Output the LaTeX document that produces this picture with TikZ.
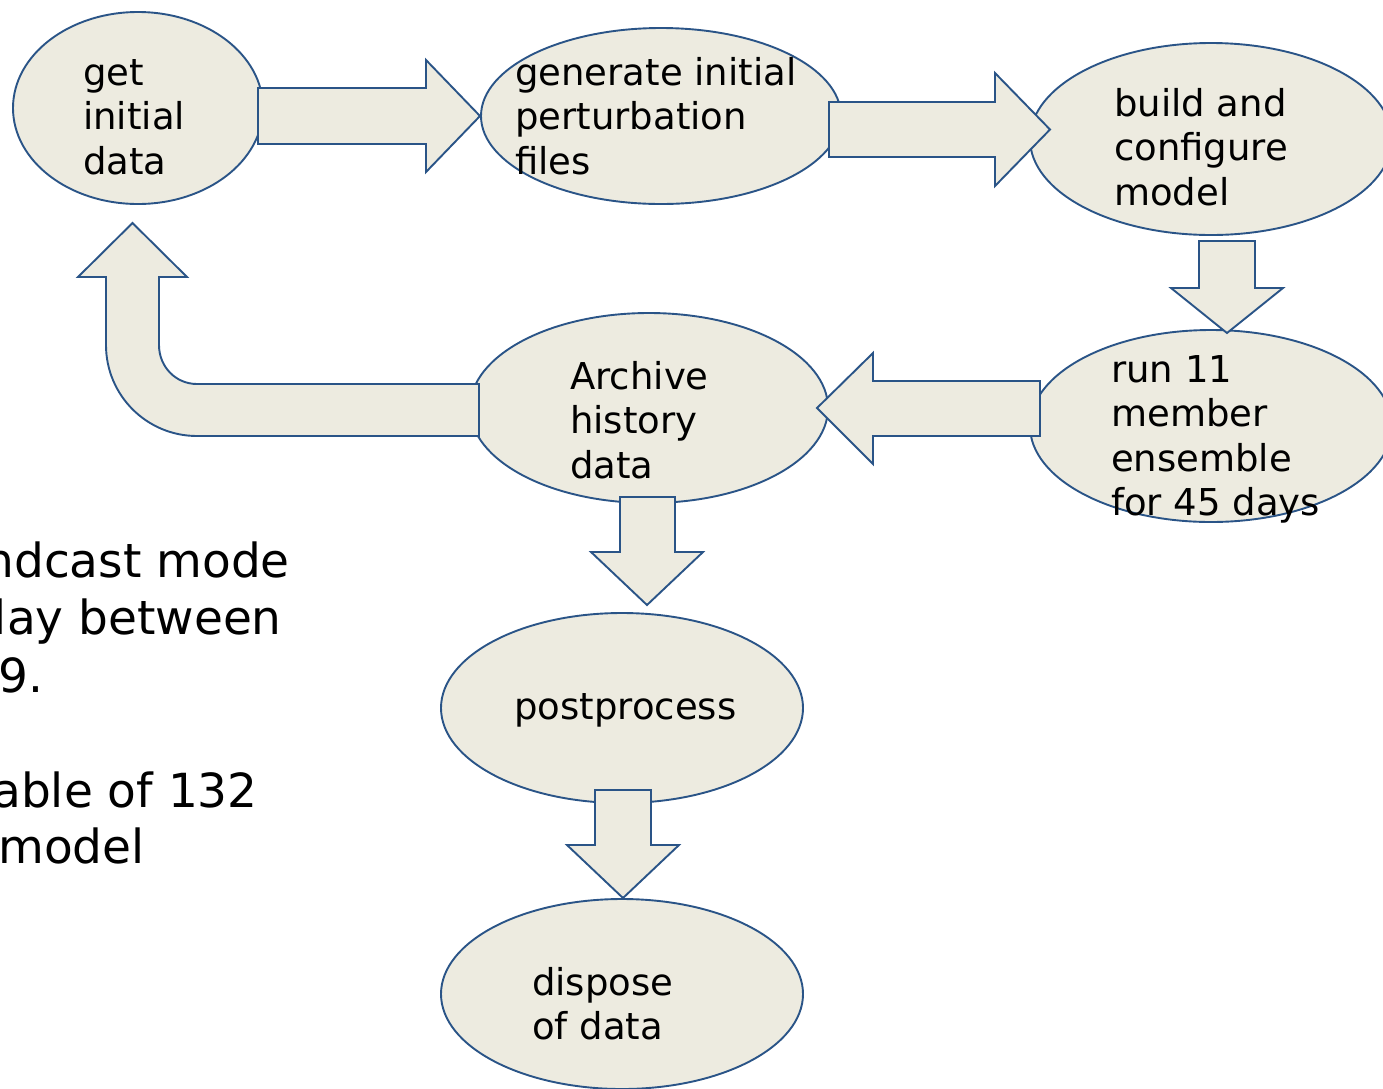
\documentclass[tikz,border=0pt]{standalone}
\usepackage{fontspec}
\setmainfont{DejaVu Sans}
\usetikzlibrary{shapes.geometric}
\definecolor{boxfill}{RGB}{237,235,224}
\definecolor{boxline}{RGB}{42,84,135}
\newcommand{\mylines}[1]{\begin{tabular}[t]{@{}l@{}}#1\end{tabular}}
\tikzset{
  bubble/.style={ellipse, draw=boxline, fill=boxfill, line width=1.9pt, inner sep=0pt},
  blockarrow/.style={draw=boxline, fill=boxfill, line width=1.9pt, line join=miter},
  lbl/.style={anchor=base west, inner sep=0pt, font=\fontsize{37}{44.5}\selectfont},
  side/.style={anchor=base east, inner sep=0pt, font=\fontsize{47}{57}\selectfont}
}
\begin{document}
\begin{tikzpicture}[x=1pt,y=-1pt]
\useasboundingbox (0,0) rectangle (1383,1088);
\fill[white] (0,0) rectangle (1383,1088);

% side text (cut at the left edge, as in the reference)
\node[side] (s1) at (290,577) {ndcast mode};
\node[side] (s2) at (282,634) {lay between};
\node[side] (s3) at (44,692) {9.};
\node[side] (s4) at (258,807) {able of 132};
\node[side] (s5) at (145,863) {model};

% ellipses
\node[bubble, minimum width=250pt, minimum height=192pt] (e1) at (138,108) {};
\node[bubble, minimum width=360pt, minimum height=176pt] (e2) at (661,116) {};
\node[bubble, minimum width=362pt, minimum height=192pt] (e3) at (1211,139) {};
\node[bubble, minimum width=362pt, minimum height=192pt] (e4) at (1211,426) {};
\node[bubble, minimum width=358pt, minimum height=190pt] (e5) at (649,408) {};
\node[bubble, minimum width=362pt, minimum height=190pt] (e6) at (622,708) {};
\node[bubble, minimum width=362pt, minimum height=190pt] (e7) at (622,994) {};

% block arrows
\draw[blockarrow] (258,88) -- (426,88) -- (426,60) -- (480,116) -- (426,172) -- (426,144) -- (258,144) -- cycle;
\draw[blockarrow] (829,102) -- (995,102) -- (995,73) -- (1050,129.5) -- (995,186) -- (995,157) -- (829,157) -- cycle;
\draw[blockarrow] (1199,241) -- (1255,241) -- (1255,288) -- (1283,288) -- (1227,333) -- (1171,288) -- (1199,288) -- cycle;
\draw[blockarrow] (1040,381) -- (873,381) -- (873,353) -- (817,408) -- (873,464) -- (873,436) -- (1040,436) -- cycle;
\draw[blockarrow] (620,497) -- (675,497) -- (675,552) -- (703,552) -- (647,605) -- (591,552) -- (620,552) -- cycle;
\draw[blockarrow] (595,790) -- (651,790) -- (651,845) -- (679,845) -- (623,898) -- (567,845) -- (595,845) -- cycle;
\draw[blockarrow] (479,384) -- (197,384)
  .. controls (175.7,384) and (159,366.7) .. (159,345)
  -- (159,277) -- (187,277) -- (132.5,223) -- (78,277) -- (106,277) -- (106,345)
  .. controls (106,395.3) and (146.7,436) .. (197,436)
  -- (479,436) -- cycle;

% labels
\node[lbl] (t1) at (83,85) {\mylines{get\\initial\\data}};
\node[lbl] (t2) at (515,85) {\mylines{generate initial\\perturbation\\files}};
\node[lbl] (t3) at (1114,116) {\mylines{build and\\configure\\model}};
\node[lbl] (t4) at (1111,382) {\mylines{run 11\\member\\ensemble\\for 45 days}};
\node[lbl] (t5) at (570,389) {\mylines{Archive\\history\\data}};
\node[lbl] (t6) at (514,719) {postprocess};
\node[lbl] (t7) at (532,995) {\mylines{dispose\\of data}};
\end{tikzpicture}
\end{document}
